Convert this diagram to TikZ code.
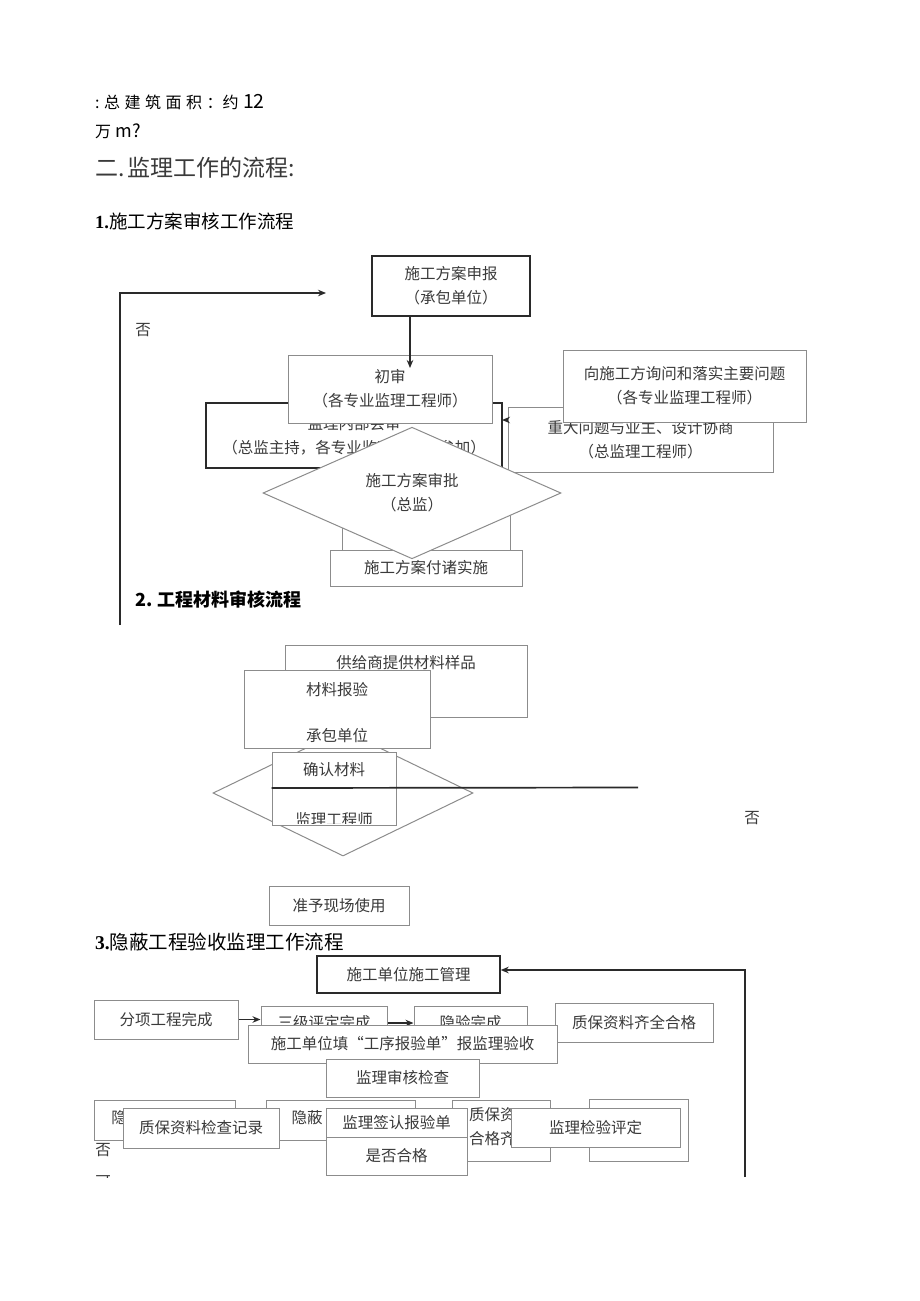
\documentclass[tikz,border=0pt]{standalone}
\usepackage{fontspec}
\setmainfont{Liberation Serif}
\newfontfamily\cjk{Noto Sans CJK SC}
\usetikzlibrary{shapes.geometric,arrows.meta}
\definecolor{txt}{HTML}{3A3A3A}
\definecolor{lb}{HTML}{8C8C8C}
\definecolor{db}{HTML}{2A2A2A}
\newcommand\gp{\hspace{4.5pt}}
\tikzset{
  sz/.style 2 args={minimum width=#1pt, minimum height=#2pt},
  bx/.style={draw=lb, line width=1pt, fill=white, inner sep=0pt, align=center, text=txt,
             font=\cjk\fontsize{15.5}{24}\selectfont},
  dbx/.style={bx, draw=db, line width=1.4pt},
  tx/.style={inner sep=0pt, text=txt, font=\cjk\fontsize{15.5}{24}\selectfont},
  hd/.style={inner sep=0pt, anchor=west, text=black},
  arr/.style={draw=db, line width=1.3pt, -{Stealth[length=8pt,width=6.5pt]}},
  ln/.style={draw=db, line width=1.7pt},
}
\begin{document}
\begin{tikzpicture}[x=1pt,y=-1pt]
\useasboundingbox (0,0) rectangle (920,1301);
\fill[white] (0,0) rectangle (920,1301);

% ---------- headings ----------
\node[hd, font=\cjk\fontsize{16}{20}\selectfont] (h1) at (95,102)
  {:\gp 总\gp 建\gp 筑\gp 面\gp 积\gp ：约\gp{\fontsize{19.5}{20}\selectfont 12}};
\node[hd, font=\cjk\fontsize{16}{20}\selectfont] (h2) at (95,131) {万\gp{\fontsize{18}{20}\selectfont m?}};
\node[hd, text=txt, font=\cjk\fontsize{23}{26}\selectfont] (h3) at (95,168) {二.\hspace{3pt}监理工作的流程:};
\node[hd, font=\cjk\fontsize{18.5}{20}\selectfont] (h4) at (95,221) {{\rmfamily\bfseries 1.}施工方案审核工作流程};

% ---------- section 1 ----------
\node[dbx, sz={296}{65}] (hs) at (354,435.5) {监理内部会审\\（总监主持，各专业监理工程师参加）};
\node[bx, sz={265}{65}] (zd) at (640.5,439.5) {重大问题与业主、设计协商\\（总监理工程师）};
\coordinate (ae) at (502,420);
\draw[arr] (zd.west |- ae) -- (ae);
\node[bx, sz={243}{72}] (xw) at (684.5,386) {向施工方询问和落实主要问题\\（各专业监理工程师）};
\node[bx, sz={204}{68}] (cs) at (390,389) {初审\\（各专业监理工程师）};
\node[dbx, sz={158}{60}] (sb) at (451,286) {施工方案申报\\（承包单位）};
\coordinate (a1) at (410,368);
\draw[arr] (sb.south -| a1) -- (a1);
\coordinate (l1) at (120,625);
\coordinate (l2) at (120,293);
\coordinate (l3) at (326,293);
\draw[arr] (l1) -- (l2) -- (l3);
\node[tx] (no1) at (143,330) {否};
\node[bx, sz={168}{50}] (bb) at (426,530) {};
\node[bx, sz={192}{36}] (ss) at (426,568) {施工方案付诸实施};
\node[bx, shape=diamond, sz={298}{126}] (dm1) at (412,493) {施工方案审批\\（总监）};

% ---------- section 2 ----------
\node[hd, font=\cjk\bfseries\fontsize{18}{20}\selectfont] (t2) at (135,600) {2. 工程材料审核流程};
\node[bx, sz={242}{72}] (gy) at (406,681) {};
\node[tx] (gyt) at (406,663) {供给商提供材料样品};
\node[bx, shape=diamond, sz={260}{126}] (dm2) at (343,793) {};
\node[bx, sz={186}{78}] (cl) at (337,709) {};
\node[tx] (clt1) at (337,690) {材料报验};
\node[tx] (clt2) at (337,736) {承包单位};
\node[bx, sz={124}{35}] (qr1) at (334,770) {确认材料};
\node[bx, sz={124}{37.5}] (qr2) at (334,806.25) {};
\begin{scope}
  \clip (273,789) rectangle (395,823);
  \node[tx] (qr2t) at (334,820) {监理工程师};
\end{scope}
\coordinate (hl) at (638,787.5);
\draw[ln] (qr1.south west) -- (hl);
\node[tx] (no2) at (752,818) {否};
\node[bx, sz={140}{39}] (zy) at (339,905.5) {准予现场使用};

% ---------- section 3 ----------
\node[hd, font=\cjk\fontsize{19.5}{20}\selectfont] (t3) at (95,942) {{\rmfamily\bfseries 3.}隐蔽工程验收监理工作流程};
\node[dbx, sz={183}{37}] (sg) at (408.5,974.5) {施工单位施工管理};
\coordinate (r1) at (745,1177);
\coordinate (r2) at (745,970);
\draw[arr] (r1) -- (r2) -- (sg.east |- r2);
\node[bx, sz={144}{39}] (fx) at (166,1019.5) {分项工程完成};
\node[bx, sz={126}{34}] (sj) at (324,1023) {三级评定完成};
\node[bx, sz={113}{34}] (yy) at (470.5,1023) {隐验完成};
\draw[arr] (fx.east) -- (fx.east -| sj.west);
\draw[arr] (sj.east) -- (sj.east -| yy.west);
\node[bx, sz={158}{39}] (zq) at (634,1022.5) {质保资料齐全合格};
\node[bx, sz={309}{38}] (sd) at (402.5,1044) {施工单位填“工序报验单”报监理验收};
\node[bx, sz={153}{38}] (jc) at (402.5,1078) {监理审核检查};
\node[bx, sz={141}{40}] (b1) at (164.5,1120) {};
\node[tx] (b1t) at (119,1118) {隐};
\node[bx, sz={149}{40}] (b2) at (340.5,1120) {};
\node[tx] (b2t) at (307,1118) {隐蔽};
\node[bx, sz={98}{61}] (b3) at (501,1130.5) {};
\node[tx, align=left, anchor=north west] (b3t) at (469,1107) {质保资\\合格齐};
\node[bx, sz={99}{62}] (b4) at (638.5,1130) {};
\node[bx, sz={156}{40}] (zj) at (201,1128) {质保资料检查记录};
\node[bx, sz={141}{29}] (qs1) at (396.5,1122.5) {监理签认报验单};
\node[bx, sz={141}{38}] (qs2) at (396.5,1156) {是否合格};
\node[bx, sz={169}{39}] (jy) at (595.5,1127.5) {监理检验评定};
\node[tx] (no3) at (103,1150) {否};
\begin{scope}
  \clip (85,1165) rectangle (125,1177);
  \node[tx] (ke) at (103,1182) {可};
\end{scope}
\end{tikzpicture}
\end{document}
